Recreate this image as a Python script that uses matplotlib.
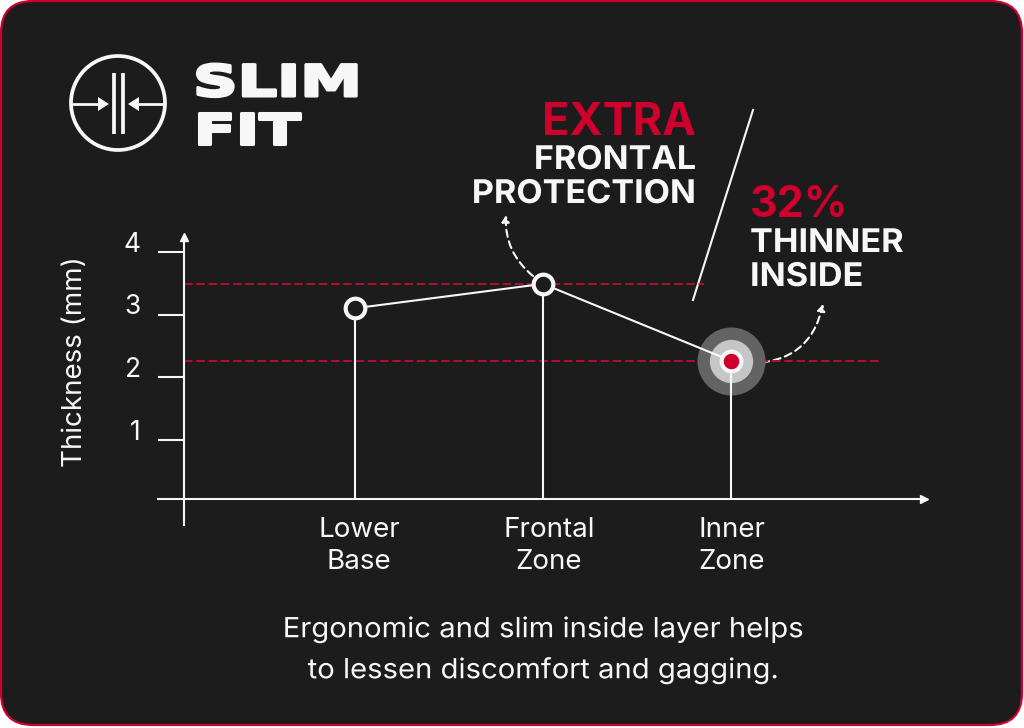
# Slim fit thickness chart on a dark rounded card

import matplotlib
matplotlib.use("Agg")
import matplotlib.pyplot as plt
import matplotlib.patheffects as pe
from matplotlib.patches import Circle, FancyBboxPatch, Polygon
from matplotlib.transforms import Affine2D, ScaledTranslation

categories = ["Lower\nBase", "Frontal\nZone", "Inner\nZone"]
thickness = [3.1, 3.49, 2.26]
y_ticks = [1, 2, 3, 4]
extra_level = 3.49
thin_level = 2.26

DARK = "#1c1c1c"
RED = "#d0002c"
DASH_RED = "#b40e30"
WHITE = "#f7f7f7"

W, H = 1024, 728
plt.rcParams["font.family"] = ["Inter", "DejaVu Sans"]


# stretches a text sideways around x0, the reference lettering is wider than the fonts here
class StretchX(pe.AbstractPathEffect):
    def __init__(self, factor, x0, stroke=0):
        super().__init__()
        self.factor = factor
        self.x0 = x0
        self.stroke = stroke

    def draw_path(self, renderer, gc, tpath, affine, rgbFace=None):
        stretch = Affine2D().translate(-self.x0, 0).scale(self.factor, 1).translate(self.x0, 0)
        gc0 = renderer.new_gc()
        gc0.copy_properties(gc)
        if self.stroke:
            gc0.set_linewidth(self.stroke)
            gc0.set_foreground(rgbFace)
        renderer.draw_path(gc0, tpath, affine + stretch, rgbFace)
        gc0.restore()


fig = plt.figure(figsize=(W / 100, H / 100), dpi=100, facecolor="white")

# overlay in pixel coordinates for the card, logo and callouts
bg = fig.add_axes([0, 0, 1, 1])
bg.set_xlim(0, W)
bg.set_ylim(H, 0)
bg.axis("off")
bg.add_patch(FancyBboxPatch((33, 33), W - 67, H - 68, boxstyle="round,pad=32,rounding_size=32",
                            fc=DARK, ec=RED, lw=1.6))

# logo
bg.add_patch(Circle((118, 103), 47, fc="none", ec=WHITE, lw=2.7))
bg.plot([114, 114], [73, 134], color=WHITE, lw=2.7, solid_capstyle="butt")
bg.plot([123, 123], [73, 134], color=WHITE, lw=2.7, solid_capstyle="butt")
bg.plot([72, 100], [104, 104], color=WHITE, lw=2, solid_capstyle="butt")
bg.plot([137, 164], [104, 104], color=WHITE, lw=2, solid_capstyle="butt")
bg.add_patch(Polygon([[98, 97], [109, 104], [98, 111]], fc=WHITE, ec="none"))
bg.add_patch(Polygon([[139, 97], [128, 104], [139, 111]], fc=WHITE, ec="none"))
for label, y in [("SLIM", 96), ("FIT", 144)]:
    t = bg.text(193, y, label, color=WHITE, fontsize=31, fontweight="bold",
                family=["DejaVu Sans"], ha="left", va="baseline")
    t.set_path_effects([StretchX(1.44, 193, stroke=2.2)])

# callouts
bg.text(696, 135, "EXTRA", color=RED, fontsize=32.4, fontweight="bold", ha="right", va="baseline")
for label, y in [("FRONTAL", 169), ("PROTECTION", 203)]:
    t = bg.text(696, y, label, color=WHITE, fontsize=23.5, fontweight="bold", ha="right", va="baseline")
    t.set_path_effects([StretchX(1.045, 696)])
bg.text(750, 217, "32%", color=RED, fontsize=31, fontweight="bold", ha="left", va="baseline")
for label, y in [("THINNER", 252), ("INSIDE", 286)]:
    t = bg.text(750, y, label, color=WHITE, fontsize=23.5, fontweight="bold", ha="left", va="baseline")
    t.set_path_effects([StretchX(1.05, 750)])
bg.plot([753, 693], [110, 300], color=WHITE, lw=1.5)

bg.annotate("", xy=(506, 215), xytext=(533, 276),
            arrowprops=dict(arrowstyle="-|>,head_length=0.4,head_width=0.22", color=WHITE, lw=1.5,
                            linestyle=(0, (3.5, 2.2)), connectionstyle="arc3,rad=-0.25",
                            shrinkA=0, shrinkB=0))
bg.annotate("", xy=(823, 304), xytext=(750, 363),
            arrowprops=dict(arrowstyle="-|>,head_length=0.4,head_width=0.22", color=WHITE, lw=1.5,
                            linestyle=(0, (3.5, 2.2)), connectionstyle="arc3,rad=0.4",
                            shrinkA=0, shrinkB=0))

for label, y in [("Ergonomic and slim inside layer helps", 630),
                 ("to lessen discomfort and gagging.", 671)]:
    t = bg.text(543, y, label, color=WHITE, fontsize=20, ha="center", va="center")
    t.set_path_effects([StretchX(1.053, 543)])

# chart axes: x positions 188 px apart, one mm is 62.5 px, zero at pixel 502
left, right, bottom, top = 158, 924, 525, 237
ax = fig.add_axes([left / W, 1 - bottom / H, (right - left) / W, (bottom - top) / H])
ax.patch.set_alpha(0)
xs = list(range(len(categories)))
ax.set_xlim((left - 355) / 188, (right - 355) / 188)
ax.set_ylim((502 - bottom) / 62.5, (502 - top) / 62.5)

base_y = 0.053
for side in ["top", "right"]:
    ax.spines[side].set_visible(False)
ax.spines["left"].set_position(("data", (184 - 355) / 188))
ax.spines["bottom"].set_position(("data", base_y))
for side in ["left", "bottom"]:
    ax.spines[side].set_color(WHITE)
    ax.spines[side].set_linewidth(1.5)

ax.plot(1, base_y, marker=">", ms=5.5, color=WHITE, clip_on=False,
        transform=ax.get_yaxis_transform())
ax.plot((184 - 355) / 188, 1, marker="^", ms=5.5, color=WHITE, clip_on=False,
        transform=ax.get_xaxis_transform())

ax.set_yticks(y_ticks)
ax.tick_params(axis="y", length=18.7, width=1.5, color=WHITE, labelcolor=WHITE,
               labelsize=19, pad=12.5)
for lab in ax.get_yticklabels():
    lab.set_verticalalignment("baseline")

ax.set_xticks(xs, categories)
ax.tick_params(axis="x", length=0, labelcolor=WHITE, labelsize=20, pad=13)
for lab, dx in zip(ax.get_xticklabels(), [4, 6, 1]):
    lab.set_linespacing(1.3)
    lab.set_transform(lab.get_transform() + ScaledTranslation(dx / 100, 0, fig.dpi_scale_trans))

ax.set_ylabel("Thickness (mm)", color=WHITE, fontsize=20)
ax.yaxis.set_label_coords((88 - left) / (right - left), (bottom - 362) / (bottom - top))

# thresholds
dash = (0, (4.4, 1.9))
ax.plot([(184 - 355) / 188, (704 - 355) / 188], [extra_level, extra_level], color=DASH_RED, lw=1.4, linestyle=dash, zorder=1)
ax.plot([(184 - 355) / 188, (880 - 355) / 188], [thin_level, thin_level], color=DASH_RED, lw=1.4, linestyle=dash, zorder=1)

# halo behind the inner zone point
ax.scatter(xs[2], thickness[2], s=2400, color="#636363", zorder=2, lw=0)
ax.scatter(xs[2], thickness[2], s=970, color="#c6c6c6", zorder=2.1, lw=0)

ax.vlines(xs, base_y, thickness, color=WHITE, lw=1.5, zorder=3)
ax.plot(xs, thickness, color=WHITE, lw=1.5, zorder=3)
ax.scatter(xs[:2], thickness[:2], s=200, color=DARK, edgecolors=WHITE, linewidths=3, zorder=4)
ax.scatter(xs[2], thickness[2], s=200, color=RED, edgecolors=WHITE, linewidths=3, zorder=4)

fig.savefig("out.png", dpi=100, facecolor=fig.get_facecolor())
